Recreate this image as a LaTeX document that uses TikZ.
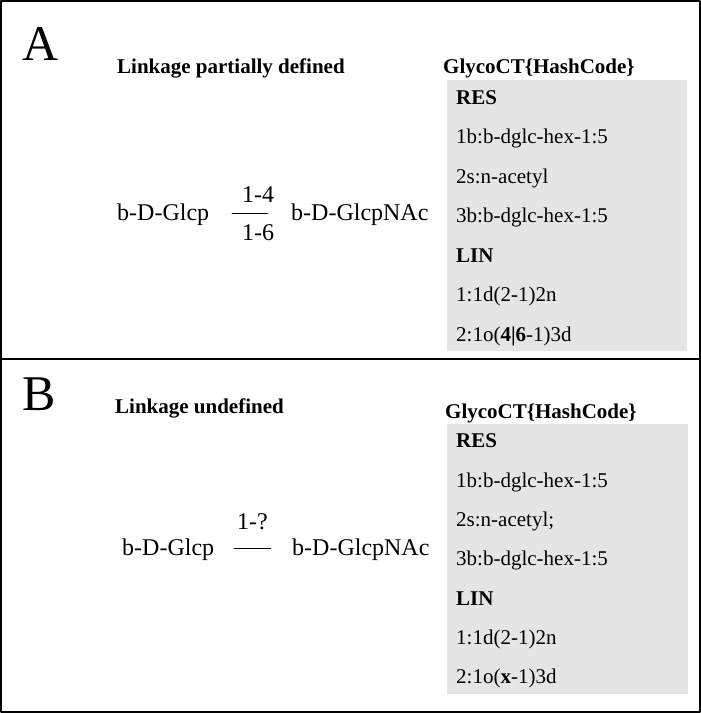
\documentclass[tikz,border=0pt]{standalone}
\usepackage{fontspec}
\setmainfont{Liberation Serif}
\begin{document}
\begin{tikzpicture}[x=1pt, y=-1pt, line cap=round, line join=round]
	\tikzset{panel/.style={font=\fontsize{50}{50}\selectfont, anchor=base west, inner sep=0pt},
		title/.style={font=\fontsize{21}{24}\selectfont\bfseries, anchor=base west, inner sep=0pt},
		sugar/.style={font=\fontsize{24}{26}\selectfont, anchor=base west, inner sep=0pt},
		code/.style={font=\fontsize{21}{24}\selectfont, anchor=base west, inner sep=0pt}}
	\useasboundingbox (0,0) rectangle (701,713);
	\draw[line width=1.5pt] (1,1) rectangle (700,712);
	\draw[line width=1.2pt] (1,359)--(700,359);
	% panel A
	\node[panel] (labA) at (22,60) {A};
	\node[title] (titA) at (117,73) {Linkage partially defined};
	\node[title] (hashA) at (443,73) {GlycoCT\{HashCode\}};
	\fill[black!10] (447,80) rectangle (687,351);
	\foreach\t [count=\i] in {\textbf{RES}, 1b:b-dglc-hex-1:5, 2s:n-acetyl, 3b:b-dglc-hex-1:5, \textbf{LIN}, 1:1d(2-1)2n, 2:1o(\textbf{4|6}-1)3d}
		\node[code] (codA\i) at (456,64.5+39.5*\i) {\t};
	\node[sugar] (glcA) at (117,220) {b-D-Glcp};
	\node[sugar] (nacA) at (291,220) {b-D-GlcpNAc};
	\node[sugar] (upA) at (242,202) {1-4};
	\node[sugar] (dnA) at (242,240) {1-6};
	\coordinate (la1) at (232,213);
	\coordinate (la2) at (268,213);
	\draw[line width=0.8pt] (la1)--(la2);
	% panel B
	\node[panel] (labB) at (22,410) {B};
	\node[title] (titB) at (115,413) {Linkage undefined};
	\node[title] (hashB) at (445,418) {GlycoCT\{HashCode\}};
	\fill[black!10] (447,424) rectangle (688,694);
	\foreach\t [count=\i] in {\textbf{RES}, 1b:b-dglc-hex-1:5, 2s:n-acetyl;, 3b:b-dglc-hex-1:5, \textbf{LIN}, 1:1d(2-1)2n, 2:1o(\textbf{x}-1)3d}
		\node[code] (codB\i) at (456,408.5+39.3*\i) {\t};
	\node[sugar] (glcB) at (122,555) {b-D-Glcp};
	\node[sugar] (nacB) at (292,555) {b-D-GlcpNAc};
	\node[sugar] (upB) at (237,529) {1-?};
	\coordinate (lb1) at (234,548);
	\coordinate (lb2) at (271,548);
	\draw[line width=0.8pt] (lb1)--(lb2);
\end{tikzpicture}
\end{document}
